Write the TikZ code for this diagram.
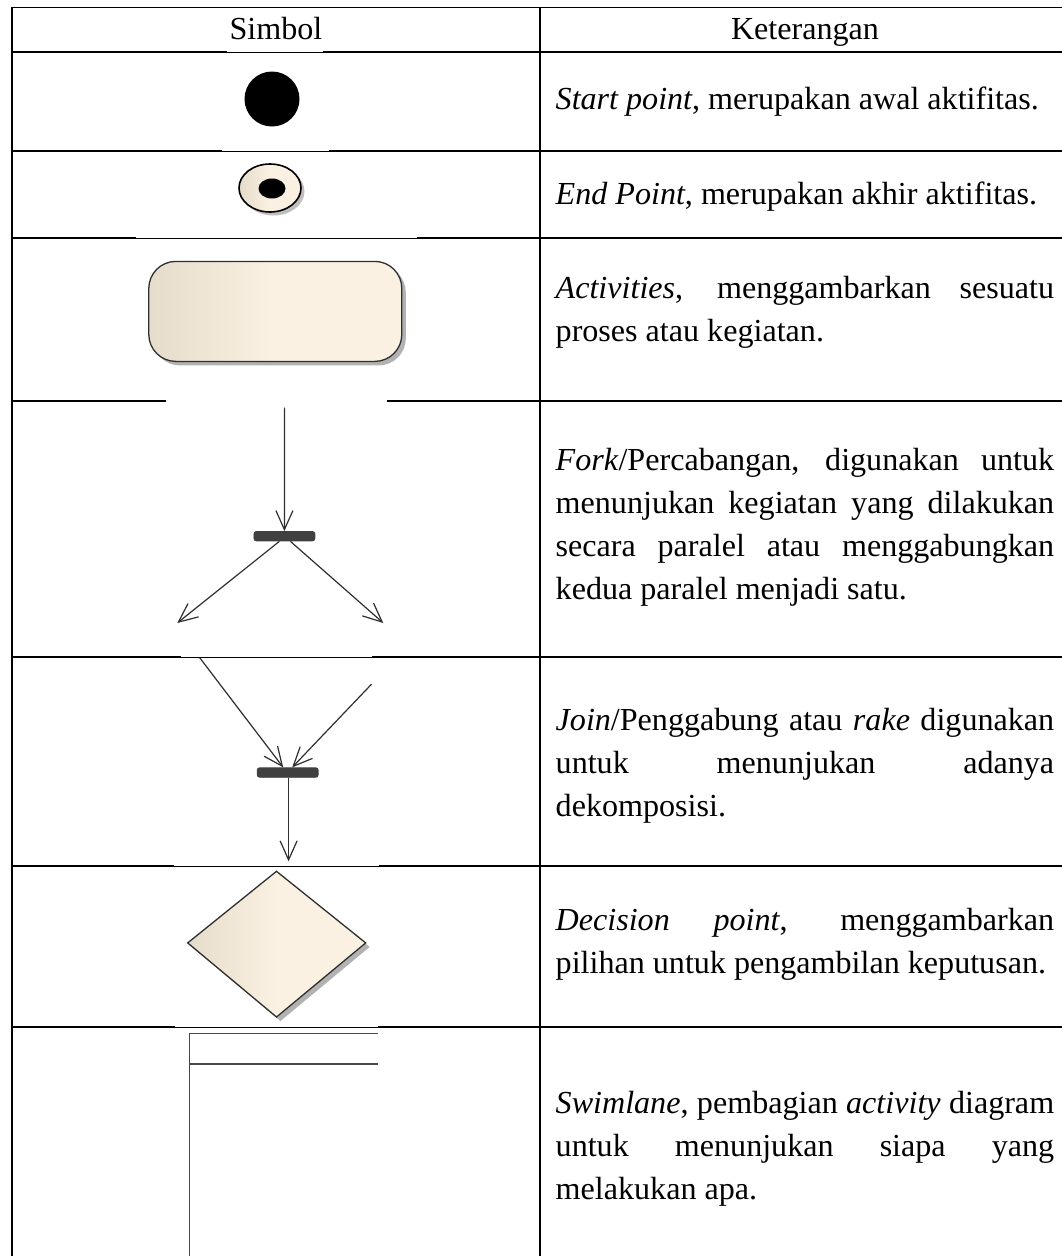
\documentclass[tikz,border=0pt]{standalone}
\usepackage{fontspec}
\setmainfont{Liberation Serif}
\usetikzlibrary{arrows.meta,shadows}
\definecolor{ecL}{HTML}{E6DCCB}
\definecolor{ecR}{HTML}{FAF1E2}
\definecolor{umlline}{HTML}{2F2F2F}
\definecolor{barcol}{HTML}{404040}
\begin{document}
\begin{tikzpicture}[x=1pt,y=-1pt,
  tline/.style={line width=1.7pt,black},
  thinline/.style={line width=0.9pt,black},
  txt/.style={anchor=base west,inner sep=0pt,text width=498.5pt,align=flush left,font=\fontsize{32.1}{43}\selectfont},
  head/.style={anchor=base,inner sep=0pt,font=\fontsize{32.1}{43}\selectfont},
  conn/.style={line width=1.2pt,umlline,-{Straight Barb[length=19pt,width=17pt,line width=1.2pt]}},
  bar/.style={rectangle,rounded corners=2.5pt,fill=barcol,draw=barcol,line width=0.8pt,minimum width=61pt,minimum height=9.5pt,inner sep=0pt},
  beige/.style={left color=ecL,right color=ecR,middle color=ecR,draw=umlline,line width=1.3pt},
  shad/.style={drop shadow={shadow xshift=4pt,shadow yshift=-4pt,opacity=0.3,fill=black}}
]
\useasboundingbox (0,0) rectangle (1062,1256);
\fill[white] (0,0) rectangle (1062,1256);

% ---- table frame ----
\draw[tline] (12,7.5) -- (1075,7.5);
\draw[tline] (12,52) -- (227,52);
\draw[thinline] (227,52) -- (323,52);
\draw[tline] (323,52) -- (1075,52);
\draw[tline] (12,151) -- (222,151);
\draw[thinline] (222,151) -- (329,151);
\draw[tline] (329,151) -- (1075,151);
\draw[tline] (12,238) -- (136,238);
\draw[thinline] (136,238) -- (417,238);
\draw[tline] (417,238) -- (1075,238);
\draw[tline] (12,401) -- (166,401);
\draw[tline] (387,401) -- (1075,401);
\draw[tline] (12,657) -- (181,657);
\draw[thinline] (181,657) -- (372,657);
\draw[tline] (372,657) -- (1075,657);
\draw[tline] (12,866) -- (174,866);
\draw[thinline] (174,866) -- (379,866);
\draw[tline] (379,866) -- (1075,866);
\draw[tline] (12,1027) -- (175,1027);
\draw[thinline] (175,1027) -- (378,1027);
\draw[tline] (378,1027) -- (1075,1027);
\draw[tline] (12,6.65) -- (12,1260);
\draw[tline] (540,6.65) -- (540,1260);

% ---- header ----
\node[head] (hsim) at (276,39.5) {Simbol};
\node[head] (hket) at (805,39.5) {Keterangan};

% ---- start point ----
\node[circle,fill=black,minimum size=55pt,inner sep=0pt] (start) at (272,99) {};

% ---- end point ----
\fill[black,opacity=0.25] (273.5,191.5) ellipse [x radius=31pt,y radius=24pt];
\path[left color=ecL,right color=ecR,middle color=ecR,draw=black,line width=1.6pt] (270,188) ellipse [x radius=31pt,y radius=24pt];
\fill[black] (272,188.5) ellipse [x radius=13.5pt,y radius=10pt];
\node[inner sep=0pt,minimum size=0pt] (endp) at (270,188) {};

% ---- activity ----
\node[beige,shad,rectangle,rounded corners=27pt,minimum width=253pt,minimum height=100pt,inner sep=0pt] (act) at (275.3,311.4) {};

% ---- fork ----
\coordinate (f0) at (284.6,407.6);
\node[bar] (fbar) at (284.4,536.2) {};
\coordinate (fl) at (177.3,623);
\coordinate (fr) at (383.3,623);
\draw[conn] (f0) -- (fbar.north);
\draw[conn] ([xshift=-5pt]fbar.south) -- (fl);
\draw[conn] ([xshift=6pt]fbar.south) -- (fr);

% ---- join ----
\coordinate (jl) at (199.7,657.7);
\coordinate (jr) at (371.5,684.2);
\node[bar] (jbar) at (287.7,772.5) {};
\coordinate (jd) at (288.6,861.3);
\draw[conn] (jl) -- ([xshift=-4.5pt]jbar.north);
\draw[conn] (jr) -- ([xshift=4.5pt]jbar.north);
\draw[conn] (jbar.south -| jd) -- (jd);

% ---- decision ----
\path[beige,shad] (276.5,871.3) -- (365.7,942.9) -- (276.5,1017) -- (187.7,942.9) -- cycle;
\node[inner sep=0pt,minimum size=0pt] (dec) at (276.5,943) {};

% ---- swimlane ----
\coordinate (s0) at (189.4,1260);
\coordinate (s1) at (189.4,1033.5);
\coordinate (s2) at (378,1033.5);
\coordinate (s3) at (189.4,1063.8);
\coordinate (s4) at (378,1063.8);
\draw[line width=1.6pt,black!72] (s0) -- (s1) -- (s2);
\draw[line width=1.6pt,black!72] (s3) -- (s4);

% ---- descriptions ----
\node[txt] (t1) at (555.5,109) {\textit{Start point}, merupakan awal aktifitas.};
\node[txt] (t2) at (555.5,204) {\textit{End Point}, merupakan akhir aktifitas.};
\node[txt] (t3) at (555.5,298.6) {\makebox[498.5pt][s]{\textit{Activities}, menggambarkan sesuatu}\\proses atau kegiatan.};
\node[txt] (t4) at (555.5,470.6) {\makebox[498.5pt][s]{\textit{Fork}/Percabangan, digunakan untuk}\\\makebox[498.5pt][s]{menunjukan kegiatan yang dilakukan}\\\makebox[498.5pt][s]{secara paralel atau menggabungkan}\\kedua paralel menjadi satu.};
\node[txt] (t5) at (555.5,730) {\makebox[498.5pt][s]{\textit{Join}/Penggabung atau \textit{rake} digunakan}\\\makebox[498.5pt][s]{untuk menunjukan adanya}\\dekomposisi.};
\node[txt] (t6) at (555.5,930.6) {\makebox[498.5pt][s]{\textit{Decision point}, menggambarkan}\\pilihan untuk pengambilan keputusan.};
\node[txt] (t7) at (555.5,1113.9) {\makebox[498.5pt][s]{\textit{Swimlane}, pembagian \textit{activity} diagram}\\\makebox[498.5pt][s]{untuk menunjukan siapa yang}\\melakukan apa.};
\end{tikzpicture}
\end{document}
